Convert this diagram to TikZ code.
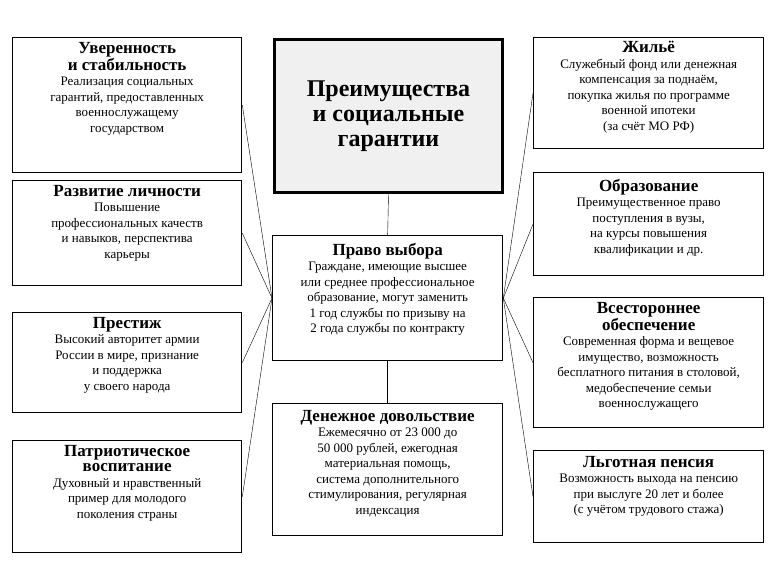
\documentclass[tikz,border=0pt]{standalone}
\usepackage{fontspec}
\setmainfont{Liberation Serif}
\newcommand\hdf{\bfseries\fontsize{17}{18}\selectfont}
\begin{document}
\begin{tikzpicture}[x=1pt,y=-1pt,
 box/.style={draw,line width=1.3pt,anchor=north west,inner sep=0},
 txt/.style={anchor=north,align=center,font=\fontsize{13}{15.5}\selectfont,inner sep=2pt}]
\useasboundingbox (0,0) rectangle (775,581);
% left
\node[box,minimum width=229,minimum height=135] (L1) at (12,37) {};
\node[txt] (tL1) at ([yshift=-3]L1.north) {{\hdf Уверенность}\\{\hdf и стабильность}\\Реализация социальных\\гарантий, предоставленных\\военнослужащему\\государством};
\node[box,minimum width=229,minimum height=105] (L2) at (12,180) {};
\node[txt] (tL2) at ([yshift=-3]L2.north) {{\hdf Развитие личности}\\Повышение\\профессиональных качеств\\и навыков, перспектива\\карьеры};
\node[box,minimum width=229,minimum height=100] (L3) at (12,312) {};
\node[txt] (tL3) at ([yshift=-3]L3.north) {{\hdf Престиж}\\Высокий авторитет армии\\России в мире, признание\\и поддержка\\у своего народа};
\node[box,minimum width=229,minimum height=112] (L4) at (12,440) {};
\node[txt] (tL4) at ([yshift=-3]L4.north) {{\hdf Патриотическое}\\{\hdf воспитание}\\Духовный и нравственный\\пример для молодого\\поколения страны};
% center
\node[box,line width=3pt,fill=gray!12,minimum width=228,minimum height=153] (T) at (273,38) {};
\node[align=center,font=\bfseries\fontsize{24}{25}\selectfont] (tT) at (T.center) {Преимущества\\и социальные\\гарантии};
\node[box,minimum width=230,minimum height=125] (C) at (272,235) {};
\node[txt] (tC) at ([yshift=-6]C.north) {{\hdf Право выбора}\\Граждане, имеющие высшее\\или среднее профессиональное\\образование, могут заменить\\1 год службы по призыву на\\2 года службы по контракту};
\node[box,minimum width=230,minimum height=132] (D) at (272,403) {};
\node[txt] (tD) at ([yshift=-5]D.north) {{\hdf Денежное довольствие}\\Ежемесячно от 23 000 до\\50 000 рублей, ежегодная\\материальная помощь,\\система дополнительного\\стимулирования, регулярная\\индексация};
% right
\node[box,minimum width=230,minimum height=111] (R1) at (533,37) {};
\node[txt] (tR1) at ([yshift=-2]R1.north) {{\hdf Жильё}\\Служебный фонд или денежная\\компенсация за поднаём,\\покупка жилья по программе\\военной ипотеки\\(за счёт МО РФ)};
\node[box,minimum width=230,minimum height=103] (R2) at (533,172) {};
\node[txt] (tR2) at ([yshift=-5]R2.north) {{\hdf Образование}\\Преимущественное право\\поступления в вузы,\\на курсы повышения\\квалификации и др.};
\node[box,minimum width=230,minimum height=130] (R3) at (533,297) {};
\node[txt] (tR3) at ([yshift=-3]R3.north) {{\hdf Всестороннее}\\{\hdf обеспечение}\\Современная форма и вещевое\\имущество, возможность\\бесплатного питания в столовой,\\медобеспечение семьи\\военнослужащего};
\node[box,minimum width=230,minimum height=92] (R4) at (533,450) {};
\node[txt] (tR4) at ([yshift=-4]R4.north) {{\hdf Льготная пенсия}\\Возможность выхода на пенсию\\при выслуге 20 лет и более\\(с учётом трудового стажа)};
% connectors
\foreach \n in {L1,L2,L3,L4} \draw (C.west) -- (\n.east);
\foreach \n in {R1,R2,R3,R4} \draw (C.east) -- (\n.west);
\draw (T.south) -- (C.north);
\draw (C.south) -- (D.north);
\end{tikzpicture}
\end{document}
